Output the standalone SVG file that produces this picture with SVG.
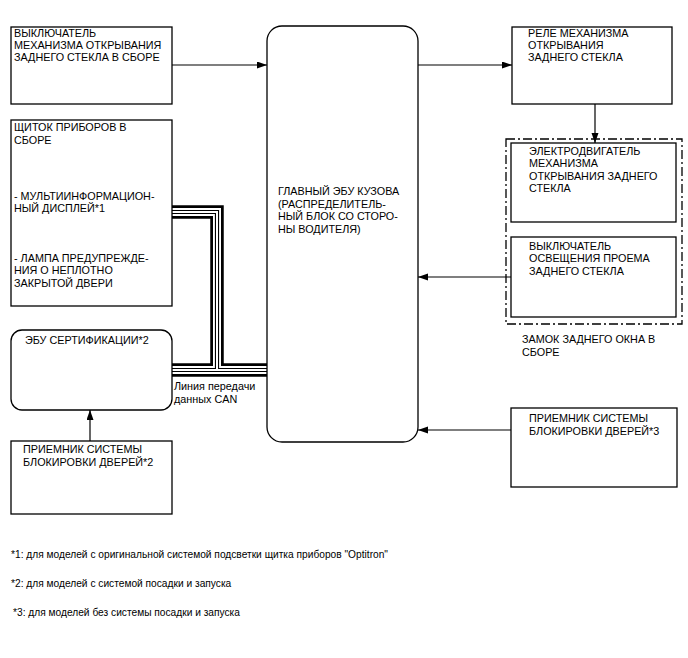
<svg xmlns="http://www.w3.org/2000/svg" width="688" height="658" viewBox="0 0 688 658">
<style>
text{font-family:"Liberation Sans",Arial,sans-serif;font-size:10.8px;fill:#000}
.fn{font-size:10.2px}
.box{fill:#fff;stroke:#000;stroke-width:1.3}
.conn{fill:none;stroke:#000;stroke-width:1.2}
.grp{fill:none;stroke:#000;stroke-width:1.3;stroke-dasharray:9 3 2 3}
.c1{fill:none;stroke:#000;stroke-width:13.5;stroke-linejoin:miter}
.c2{fill:none;stroke:#fff;stroke-width:8;stroke-linejoin:miter}
.c3{fill:none;stroke:#000;stroke-width:4.2;stroke-linejoin:miter}
.c4{fill:none;stroke:#fff;stroke-width:2;stroke-linejoin:miter}
</style>
<defs>
<marker id="ah" markerUnits="userSpaceOnUse" markerWidth="11" markerHeight="8" refX="10" refY="3.5" orient="auto">
<path d="M0,0 L10,3.5 L0,7 z" fill="#000"/>
</marker>
<path id="canA" d="M172,212 H217 V370"/>
<path id="canB" d="M172,370 H267"/>
</defs>
<rect width="688" height="658" fill="#fff"/>

<g id="connectors">
<path class="conn" d="M172,65 H267" marker-end="url(#ah)"/>
<path class="conn" d="M418,65 H512" marker-end="url(#ah)"/>
<path class="conn" d="M595,104 V143" marker-end="url(#ah)"/>
<path class="conn" d="M511,277 H418" marker-end="url(#ah)"/>
<path class="conn" d="M511,430 H418" marker-end="url(#ah)"/>
<path class="conn" d="M90,441 V410" marker-end="url(#ah)"/>
<g id="can-bus">
<use href="#canA" class="c1"/><use href="#canB" class="c1"/>
<use href="#canA" class="c2"/><use href="#canB" class="c2"/>
<use href="#canA" class="c3"/><use href="#canB" class="c3"/>
<use href="#canA" class="c4"/><use href="#canB" class="c4"/>
</g>
<text x="174" y="390">Линия передачи</text>
<text x="174" y="403">данных CAN</text>
</g>

<g id="node-switch">
<rect class="box" x="11" y="27" width="161" height="77"/>
<text x="14" y="37">ВЫКЛЮЧАТЕЛЬ</text>
<text x="14" y="49">МЕХАНИЗМА ОТКРЫВАНИЯ</text>
<text x="14" y="61">ЗАДНЕГО СТЕКЛА В СБОРЕ</text>
</g>

<g id="node-cluster">
<rect class="box" x="11" y="120" width="161" height="186"/>
<text x="14" y="131">ЩИТОК ПРИБОРОВ В</text>
<text x="14" y="143.5">СБОРЕ</text>
<text x="14" y="199.5">- МУЛЬТИИНФОРМАЦИОН-</text>
<text x="14" y="212">НЫЙ ДИСПЛЕЙ*1</text>
<text x="14" y="261.5">- ЛАМПА ПРЕДУПРЕЖДЕ-</text>
<text x="14" y="274">НИЯ О НЕПЛОТНО</text>
<text x="14" y="286.5">ЗАКРЫТОЙ ДВЕРИ</text>
</g>

<g id="node-cert-ecu">
<rect class="box" x="11" y="330" width="161" height="80" rx="11"/>
<text x="25" y="344">ЭБУ СЕРТИФИКАЦИИ*2</text>
</g>

<g id="node-receiver2">
<rect class="box" x="11" y="441" width="161" height="73"/>
<text x="23" y="453">ПРИЕМНИК СИСТЕМЫ</text>
<text x="23" y="466">БЛОКИРОВКИ ДВЕРЕЙ*2</text>
</g>

<g id="node-main-ecu">
<rect class="box" x="267" y="26" width="151" height="416" rx="15"/>
<text x="278" y="195">ГЛАВНЫЙ ЭБУ КУЗОВА</text>
<text x="278" y="207.5">(РАСПРЕДЕЛИТЕЛЬ-</text>
<text x="278" y="220">НЫЙ БЛОК СО СТОРО-</text>
<text x="278" y="232.5">НЫ ВОДИТЕЛЯ)</text>
</g>

<g id="node-relay">
<rect class="box" x="512" y="27" width="160" height="77"/>
<text x="528" y="37">РЕЛЕ МЕХАНИЗМА</text>
<text x="528" y="49">ОТКРЫВАНИЯ</text>
<text x="528" y="61">ЗАДНЕГО СТЕКЛА</text>
</g>

<g id="node-lock-assembly">
<rect class="grp" x="506" y="139" width="176" height="185"/>
<text x="522" y="343">ЗАМОК ЗАДНЕГО ОКНА В</text>
<text x="522" y="355.5">СБОРЕ</text>
</g>

<g id="node-motor">
<rect class="box" x="511" y="143" width="165" height="79"/>
<text x="529" y="154.5">ЭЛЕКТРОДВИГАТЕЛЬ</text>
<text x="529" y="167">МЕХАНИЗМА</text>
<text x="529" y="179.5">ОТКРЫВАНИЯ ЗАДНЕГО</text>
<text x="529" y="192">СТЕКЛА</text>
</g>

<g id="node-door-switch">
<rect class="box" x="511" y="237" width="165" height="80"/>
<text x="529" y="249.5">ВЫКЛЮЧАТЕЛЬ</text>
<text x="529" y="262">ОСВЕЩЕНИЯ ПРОЕМА</text>
<text x="529" y="274.5">ЗАДНЕГО СТЕКЛА</text>
</g>

<g id="node-receiver3">
<rect class="box" x="511" y="408" width="166" height="79"/>
<text x="529" y="422">ПРИЕМНИК СИСТЕМЫ</text>
<text x="529" y="435">БЛОКИРОВКИ ДВЕРЕЙ*3</text>
</g>

<g id="footnotes">
<text class="fn" x="11" y="558">*1: для моделей с оригинальной системой подсветки щитка приборов "Optitron"</text>
<text class="fn" x="11" y="587">*2: для моделей с системой посадки и запуска</text>
<text class="fn" x="13" y="616">*3: для моделей без системы посадки и запуска</text>
</g>
</svg>
